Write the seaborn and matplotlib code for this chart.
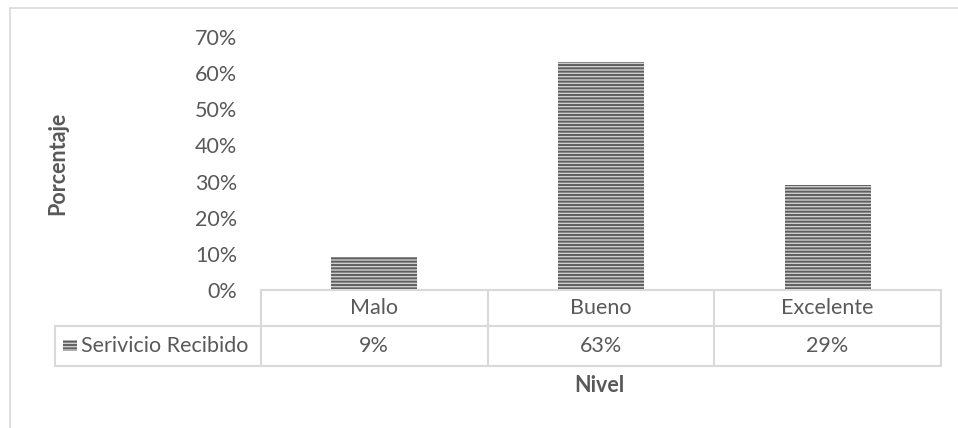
import matplotlib.pyplot as plt
import seaborn as sns
from matplotlib.lines import Line2D
from matplotlib.patches import Rectangle
from matplotlib.ticker import PercentFormatter

# Data
categories = ["Malo", "Bueno", "Excelente"]
values = [0.09, 0.63, 0.29]
value_labels = ["9%", "63%", "29%"]
series_name = "Serivicio Recibido"
y_ticks = [0, 0.1, 0.2, 0.3, 0.4, 0.5, 0.6, 0.7]

sns.set_theme(style="white")
plt.rcParams['font.family'] = ['Lato', 'DejaVu Sans']
plt.rcParams['hatch.linewidth'] = 1.4
plt.rcParams['hatch.color'] = '#5f5f5f'

text_color = '#595959'
line_color = '#d9d9d9'
fs = 15.5

fig = plt.figure(figsize=(9.58, 4.28), dpi=100)
ax = fig.add_axes([0.2724, 0.3224, 0.7098, 0.5911])

sns.barplot(x=categories, y=values, ax=ax, width=0.38, color='#cfcfcf',
            linewidth=0, hatch='-----')
for p in ax.patches:
    p.set_hatch('-----')
    p.set_edgecolor('#5f5f5f')
    p.set_linewidth(0)

ax.set_ylim(0, 0.7)
ax.set_xlim(-0.5, len(categories) - 0.5)
ax.set_yticks(y_ticks)
ax.yaxis.set_major_formatter(PercentFormatter(1.0, decimals=0))
ax.tick_params(axis='y', length=0, pad=17, labelsize=fs, labelcolor=text_color)
ax.set_xticks([])
ax.set_xlabel('')
ax.set_ylabel('')
for s in ['top', 'right', 'left']:
    ax.spines[s].set_visible(False)
ax.spines['bottom'].set_color(line_color)
ax.spines['bottom'].set_linewidth(1.5)

# data table below the axis
r1 = -0.142   # bottom of category row
r2 = -0.300   # bottom of value row
left_cell = -0.303
tkw = dict(transform=ax.transAxes, color=line_color, lw=1.5, clip_on=False)
ax.add_line(Line2D([0, 1], [r1, r1], **tkw))
ax.add_line(Line2D([left_cell, 1], [r2, r2], **tkw))
ax.add_line(Line2D([left_cell, 0], [r1, r1], **tkw))
ax.add_line(Line2D([left_cell, left_cell], [r1, r2], **tkw))
n = len(categories)
for i in range(n + 1):
    xf = i / n
    ax.add_line(Line2D([xf, xf], [0, r2], **tkw))
for i, (c, v) in enumerate(zip(categories, value_labels)):
    xf = (i + 0.5) / n
    ax.text(xf, r1 / 2, c, transform=ax.transAxes, ha='center', va='center',
            fontsize=fs, color=text_color)
    ax.text(xf, (r1 + r2) / 2, v, transform=ax.transAxes, ha='center',
            va='center', fontsize=fs, color=text_color)

# legend key in table
ax.add_patch(Rectangle((-0.291, -0.241), 0.020, 0.043, transform=ax.transAxes,
                       facecolor='#cfcfcf', hatch='-----', edgecolor='#5f5f5f',
                       linewidth=0, clip_on=False))
ax.text(-0.265, (r1 + r2) / 2, series_name, transform=ax.transAxes,
        ha='left', va='center', fontsize=fs, color=text_color)

# axis titles
fig.text(0.0605, 0.619, 'Porcentaje', rotation=90, ha='center', va='center',
         fontsize=fs, fontweight='bold', color=text_color)
fig.text(0.626, 0.10, 'Nivel', ha='center', va='center',
         fontsize=fs, fontweight='bold', color=text_color)

# chart border
fig.add_artist(Line2D([0.0104, 0.0104], [0, 0.981], transform=fig.transFigure,
                      color=line_color, lw=1.2))
fig.add_artist(Line2D([0.0104, 1], [0.981, 0.981], transform=fig.transFigure,
                      color=line_color, lw=1.2))

fig.savefig('out.png', dpi=100, facecolor='white')
